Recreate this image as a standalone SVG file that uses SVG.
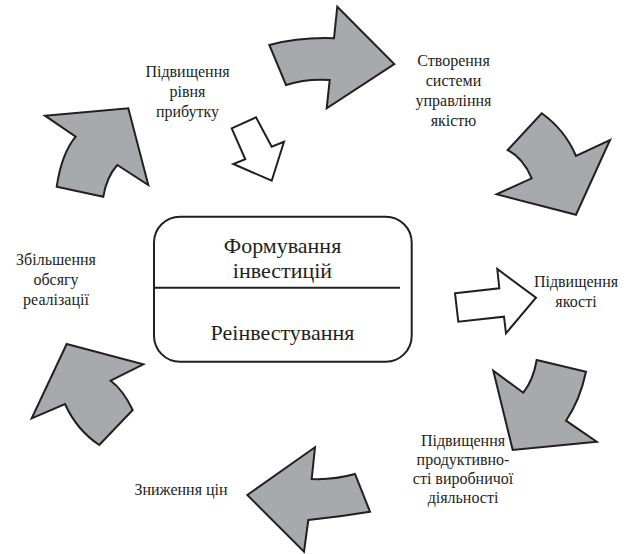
<svg xmlns="http://www.w3.org/2000/svg" width="640" height="554" viewBox="0 0 640 554">
<rect width="640" height="554" fill="#ffffff"/>
<g id="center">
<rect x="154" y="216.7" width="257.7" height="145" rx="26" ry="26" fill="#ffffff" stroke="#231f20" stroke-width="2"/>
<line x1="154" y1="287.7" x2="400" y2="287.7" stroke="#231f20" stroke-width="2"/>
<text font-family="Liberation Serif" font-size="22" fill="#231f20" text-anchor="middle" x="282.5" y="253">Формування</text>
<text font-family="Liberation Serif" font-size="22" fill="#231f20" text-anchor="middle" x="282.5" y="278">інвестицій</text>
<text font-family="Liberation Serif" font-size="22" fill="#231f20" text-anchor="middle" x="282.5" y="340">Реінвестування</text>
</g>
<g id="n-profit">
<text font-family="Liberation Serif" font-size="16" fill="#231f20" text-anchor="middle" x="187.5" y="77">Підвищення</text>
<text font-family="Liberation Serif" font-size="16" fill="#231f20" text-anchor="middle" x="187.5" y="97">рівня</text>
<text font-family="Liberation Serif" font-size="16" fill="#231f20" text-anchor="middle" x="187.5" y="117">прибутку</text>
</g>
<g id="n-quality-system">
<text font-family="Liberation Serif" font-size="16" fill="#231f20" text-anchor="middle" x="453.5" y="66">Створення</text>
<text font-family="Liberation Serif" font-size="16" fill="#231f20" text-anchor="middle" x="453.5" y="86">системи</text>
<text font-family="Liberation Serif" font-size="16" fill="#231f20" text-anchor="middle" x="453.5" y="106">управління</text>
<text font-family="Liberation Serif" font-size="16" fill="#231f20" text-anchor="middle" x="453.5" y="126">якістю</text>
</g>
<g id="n-quality">
<text font-family="Liberation Serif" font-size="16" fill="#231f20" text-anchor="middle" x="576" y="287">Підвищення</text>
<text font-family="Liberation Serif" font-size="16" fill="#231f20" text-anchor="middle" x="576" y="307">якості</text>
</g>
<g id="n-productivity">
<text font-family="Liberation Serif" font-size="16" fill="#231f20" text-anchor="middle" x="463" y="446">Підвищення</text>
<text font-family="Liberation Serif" font-size="16" fill="#231f20" text-anchor="middle" x="463" y="465">продуктивно-</text>
<text font-family="Liberation Serif" font-size="16" fill="#231f20" text-anchor="middle" x="463" y="484">сті виробничої</text>
<text font-family="Liberation Serif" font-size="16" fill="#231f20" text-anchor="middle" x="463" y="503">діяльності</text>
</g>
<g id="n-prices">
<text font-family="Liberation Serif" font-size="16" fill="#231f20" text-anchor="middle" x="181" y="495">Зниження цін</text>
</g>
<g id="n-sales">
<text font-family="Liberation Serif" font-size="16" fill="#231f20" text-anchor="middle" x="56" y="265">Збільшення</text>
<text font-family="Liberation Serif" font-size="16" fill="#231f20" text-anchor="middle" x="56" y="285">обсягу</text>
<text font-family="Liberation Serif" font-size="16" fill="#231f20" text-anchor="middle" x="56" y="305">реалізації</text>
</g>
<g id="connectors" fill="#a7a9ac" stroke="#231f20" stroke-width="2" stroke-linejoin="miter">
<path d="M269.3,45 Q300,37 334,38.3 L337.3,6.7 L394.3,64 L326.7,108.3 L329.7,80 Q306.7,78.3 286,85 Z"/>
<path d="M541.7,113.3 Q565,130 576,156 L610,140 L576,214.7 L496.7,194.3 L531.7,178.3 Q523.3,158.3 507.7,150 Z"/>
<path fill="#ffffff" d="M455,293.3 L499.3,288.3 L497.3,269 L536,297.7 L506,333.3 L504,316.7 L458.3,321.7 Z"/>
<path d="M536.7,360 L586,371.7 Q580,400 566,420.7 L596.7,441.7 L512.7,450 L493.3,370.7 L523.3,392.7 Q533.3,380 536.7,360 Z"/>
<path d="M247.3,495 L315,447.3 L311.7,479 Q333.3,480 355,474 L370,511.7 Q340,516.7 308.3,520 L304,551.7 Z"/>
<path d="M66.7,344 L143.3,364.3 L110.7,380.7 Q123.3,390 132.7,410 L99.3,445 Q76.7,430 65,404 L31.7,418.3 Z"/>
<path d="M45,115.7 L128.3,108.3 L148.3,185 L117.3,165 Q106.7,176.7 103.3,196.7 L56.7,186.7 Q61.7,153.3 75.7,136.7 Z"/>
<path fill="#ffffff" d="M231.7,128.3 L256,117.3 L271.7,146.7 L284,141.7 L271.7,180.7 L233.3,164 L245.3,159.3 Z"/>
</g>
</svg>
